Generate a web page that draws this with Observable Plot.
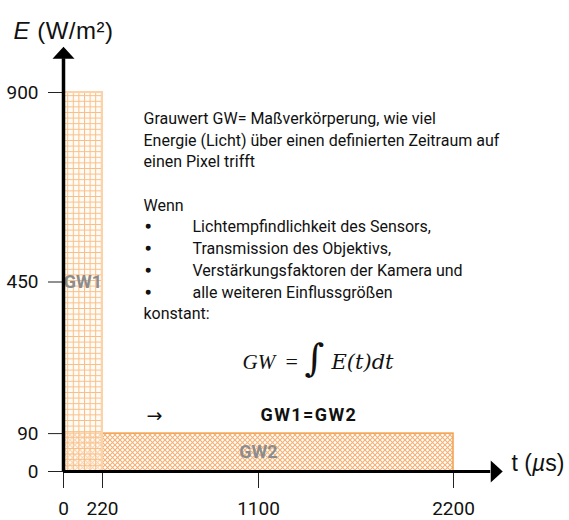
<!DOCTYPE html>
<html><head><meta charset="utf-8">
<script src="https://cdn.jsdelivr.net/npm/d3@7"></script>
<script src="https://cdn.jsdelivr.net/npm/@observablehq/plot@0.6"></script>
<style>body{margin:0;background:#fff}</style>
</head><body><div id="chart"></div>
<script>
// ---- data ----
const blockNames = ["GW1", "GW2"];
const tStart = [0, 0];          // µs
const tEnd = [220, 2200];       // µs
const energy = [900, 90];       // W/m²
const xTicks = [0, 220, 1100, 2200];
const yTicks = [0, 90, 450, 900];
const tAxisEnd = 2410;          // arrow extent of the t axis
const eAxisEnd = 980;           // arrow extent of the E axis
const yTitle = ["E", " (W/m²)"];
const xTitle = ["t (", "µ", "s)"];
const infoLines = [
  "Grauwert GW= Maßverkörperung, wie viel",
  "Energie (Licht) über einen definierten Zeitraum auf",
  "einen Pixel trifft",
  "",
  "Wenn",
  "", "", "", "",
  "konstant:"
];
const bulletItems = [
  "Lichtempfindlichkeit des Sensors,",
  "Transmission des Objektivs,",
  "Verstärkungsfaktoren der Kamera und",
  "alle weiteren Einflussgrößen"
];
const formula = ["GW", "=", "∫", "E(t)dt"];
const conclusion = ["→", "GW1=GW2"];

const blocks = blockNames.map((name, i) => ({name, t0: tStart[i], t1: tEnd[i], e: energy[i]}));
const bulletText = ["", "", "", "", "", ...bulletItems].join("\n");
const bulletDots = ["", "", "", "", "", ...bulletItems.map(() => "•")].join("\n");

const FONT = "Roboto,'Liberation Sans',sans-serif";
const SERIF = "'Liberation Serif','DejaVu Serif',serif";
const LINE = 21.7; // px between text lines

// flat arrow head: base centred on the anchor, tip pointing up
const arrowHead = {draw(ctx) { ctx.moveTo(0, -12); ctx.lineTo(11, 0); ctx.lineTo(-11, 0); ctx.closePath(); }};

const chart = Plot.plot({
  width: 569,
  height: 520,
  marginLeft: 63,
  marginRight: 116,
  marginTop: 92,
  marginBottom: 49,
  style: {fontFamily: FONT, fontSize: "16px", color: "#111", background: "#fff", overflow: "visible"},
  x: {domain: [0, 2200], axis: null},
  y: {domain: [0, 900], axis: null},
  marks: [
    Plot.rect(blocks.filter(d => d.name === "GW2"), {x1: "t0", x2: "t1", y1: 0, y2: "e", fill: "url(#hatch2)", stroke: "#f3a04a", strokeWidth: 1.5}),
    Plot.rect(blocks.filter(d => d.name === "GW1"), {x1: "t0", x2: "t1", y1: 0, y2: "e", fill: "url(#grid1)", stroke: "#fcd3a8", strokeWidth: 2}),
    Plot.text(blocks, {x: d => (d.t0 + d.t1) / 2, y: d => d.e / 2, text: "name", fill: "#8c8c8c", fontWeight: "bold", fontSize: 18}),
    Plot.axisY(yTicks, {tickSize: 15, tickPadding: 10, fontSize: 19, stroke: "#222", label: null, tickFormat: d => String(d)}),
    Plot.axisX(xTicks, {tickSize: 17, tickPadding: 13, fontSize: 19, stroke: "#222", label: null, tickFormat: d => String(d)}),
    Plot.ruleX([0], {y1: 0, y2: eAxisEnd, stroke: "#000", strokeWidth: 3.5, clip: false}),
    Plot.ruleY([0], {x1: 0, x2: tAxisEnd, stroke: "#000", strokeWidth: 3, clip: false}),
    Plot.dot([eAxisEnd], {x: 0, y: d => d, symbol: arrowHead, fill: "#000", stroke: null}),
    Plot.dot([tAxisEnd], {x: d => d, y: 0, symbol: arrowHead, fill: "#000", stroke: null, rotate: 90}),
    // axis titles
    Plot.text([yTitle.join("")], {frameAnchor: "top-left", dx: -50, dy: -71, textAnchor: "start", fontSize: 24, fontFamily: "'Liberation Sans',Arial,sans-serif"}),
    Plot.text([xTitle.join("")], {frameAnchor: "bottom-right", dx: 58, dy: -1, textAnchor: "start", fontSize: 23, fontFamily: "'Liberation Sans',Arial,sans-serif"}),
    // info text
    Plot.text([infoLines.join("\n")], {frameAnchor: "top-left", dx: 80, dy: 16, textAnchor: "start", lineAnchor: "top", lineHeight: LINE / 16, fontSize: 16}),
    Plot.text([bulletDots], {frameAnchor: "top-left", dx: 82, dy: 16, textAnchor: "start", lineAnchor: "top", lineHeight: LINE / 16, fontSize: 16, fill: "#111", stroke: "#111", strokeWidth: 1.6}),
    Plot.text([bulletText], {frameAnchor: "top-left", dx: 129, dy: 16, textAnchor: "start", lineAnchor: "top", lineHeight: LINE / 16, fontSize: 16}),
    // formula
    Plot.text([formula[0]], {frameAnchor: "top-left", dx: 179, dy: 262, textAnchor: "start", fontSize: 21, fontStyle: "italic", fontFamily: SERIF}),
    Plot.text([formula[1]], {frameAnchor: "top-left", dx: 222, dy: 261, textAnchor: "start", fontSize: 22, fontFamily: SERIF}),
    Plot.text([formula[2]], {frameAnchor: "top-left", dx: 251, dy: 252, textAnchor: "middle", fontSize: 38, fontFamily: "'DejaVu Serif',serif"}),
    Plot.text([formula[3]], {frameAnchor: "top-left", dx: 268, dy: 262, textAnchor: "start", fontSize: 21, fontStyle: "italic", fontFamily: "'DejaVu Serif',serif"}),
    Plot.text([conclusion[0]], {frameAnchor: "top-left", dx: 83, dy: 316, textAnchor: "start", fontSize: 19, fontFamily: "'DejaVu Sans',sans-serif"}),
    Plot.text([conclusion[1]], {frameAnchor: "top-left", dx: 197, dy: 316, textAnchor: "start", fontSize: 18, fontWeight: "bold"})
  ]
});

// patterns for hatched fills
const svg = d3.select(chart);
const defs = svg.insert("defs", ":first-child");
const g1 = defs.append("pattern").attr("id", "grid1").attr("patternUnits", "userSpaceOnUse")
  .attr("width", 5.6).attr("height", 5.6);
g1.append("rect").attr("width", 5.6).attr("height", 5.6).attr("fill", "#fff7ee").attr("fill-opacity", 0.55);
g1.append("path").attr("d", "M0,0.5H5.6M0.5,0V5.6").attr("stroke", "#f8be84").attr("stroke-width", 1).attr("fill", "none");
const g2 = defs.append("pattern").attr("id", "hatch2").attr("patternUnits", "userSpaceOnUse")
  .attr("width", 5).attr("height", 5);
g2.append("path").attr("d", "M0,0L5,5M5,0L0,5").attr("stroke", "#f5b072").attr("stroke-width", 1.1).attr("fill", "none");

function textWith(content) {
  return svg.selectAll("text").filter(function() { return this.textContent === content; });
}
// italic pieces of the axis titles
function splitTitle(parts, italicIdx) {
  const t = textWith(parts.join(""));
  t.text(null);
  parts.forEach((p, i) => t.append("tspan").attr("font-style", italicIdx.includes(i) ? "italic" : null).text(p));
}
splitTitle(yTitle, [0]);
splitTitle(xTitle, [1]);
textWith(conclusion[1]).attr("letter-spacing", "1.4px");
textWith(yTitle.join("")).attr("letter-spacing", "0.5px");

document.getElementById("chart").append(chart);
</script>
</body></html>
